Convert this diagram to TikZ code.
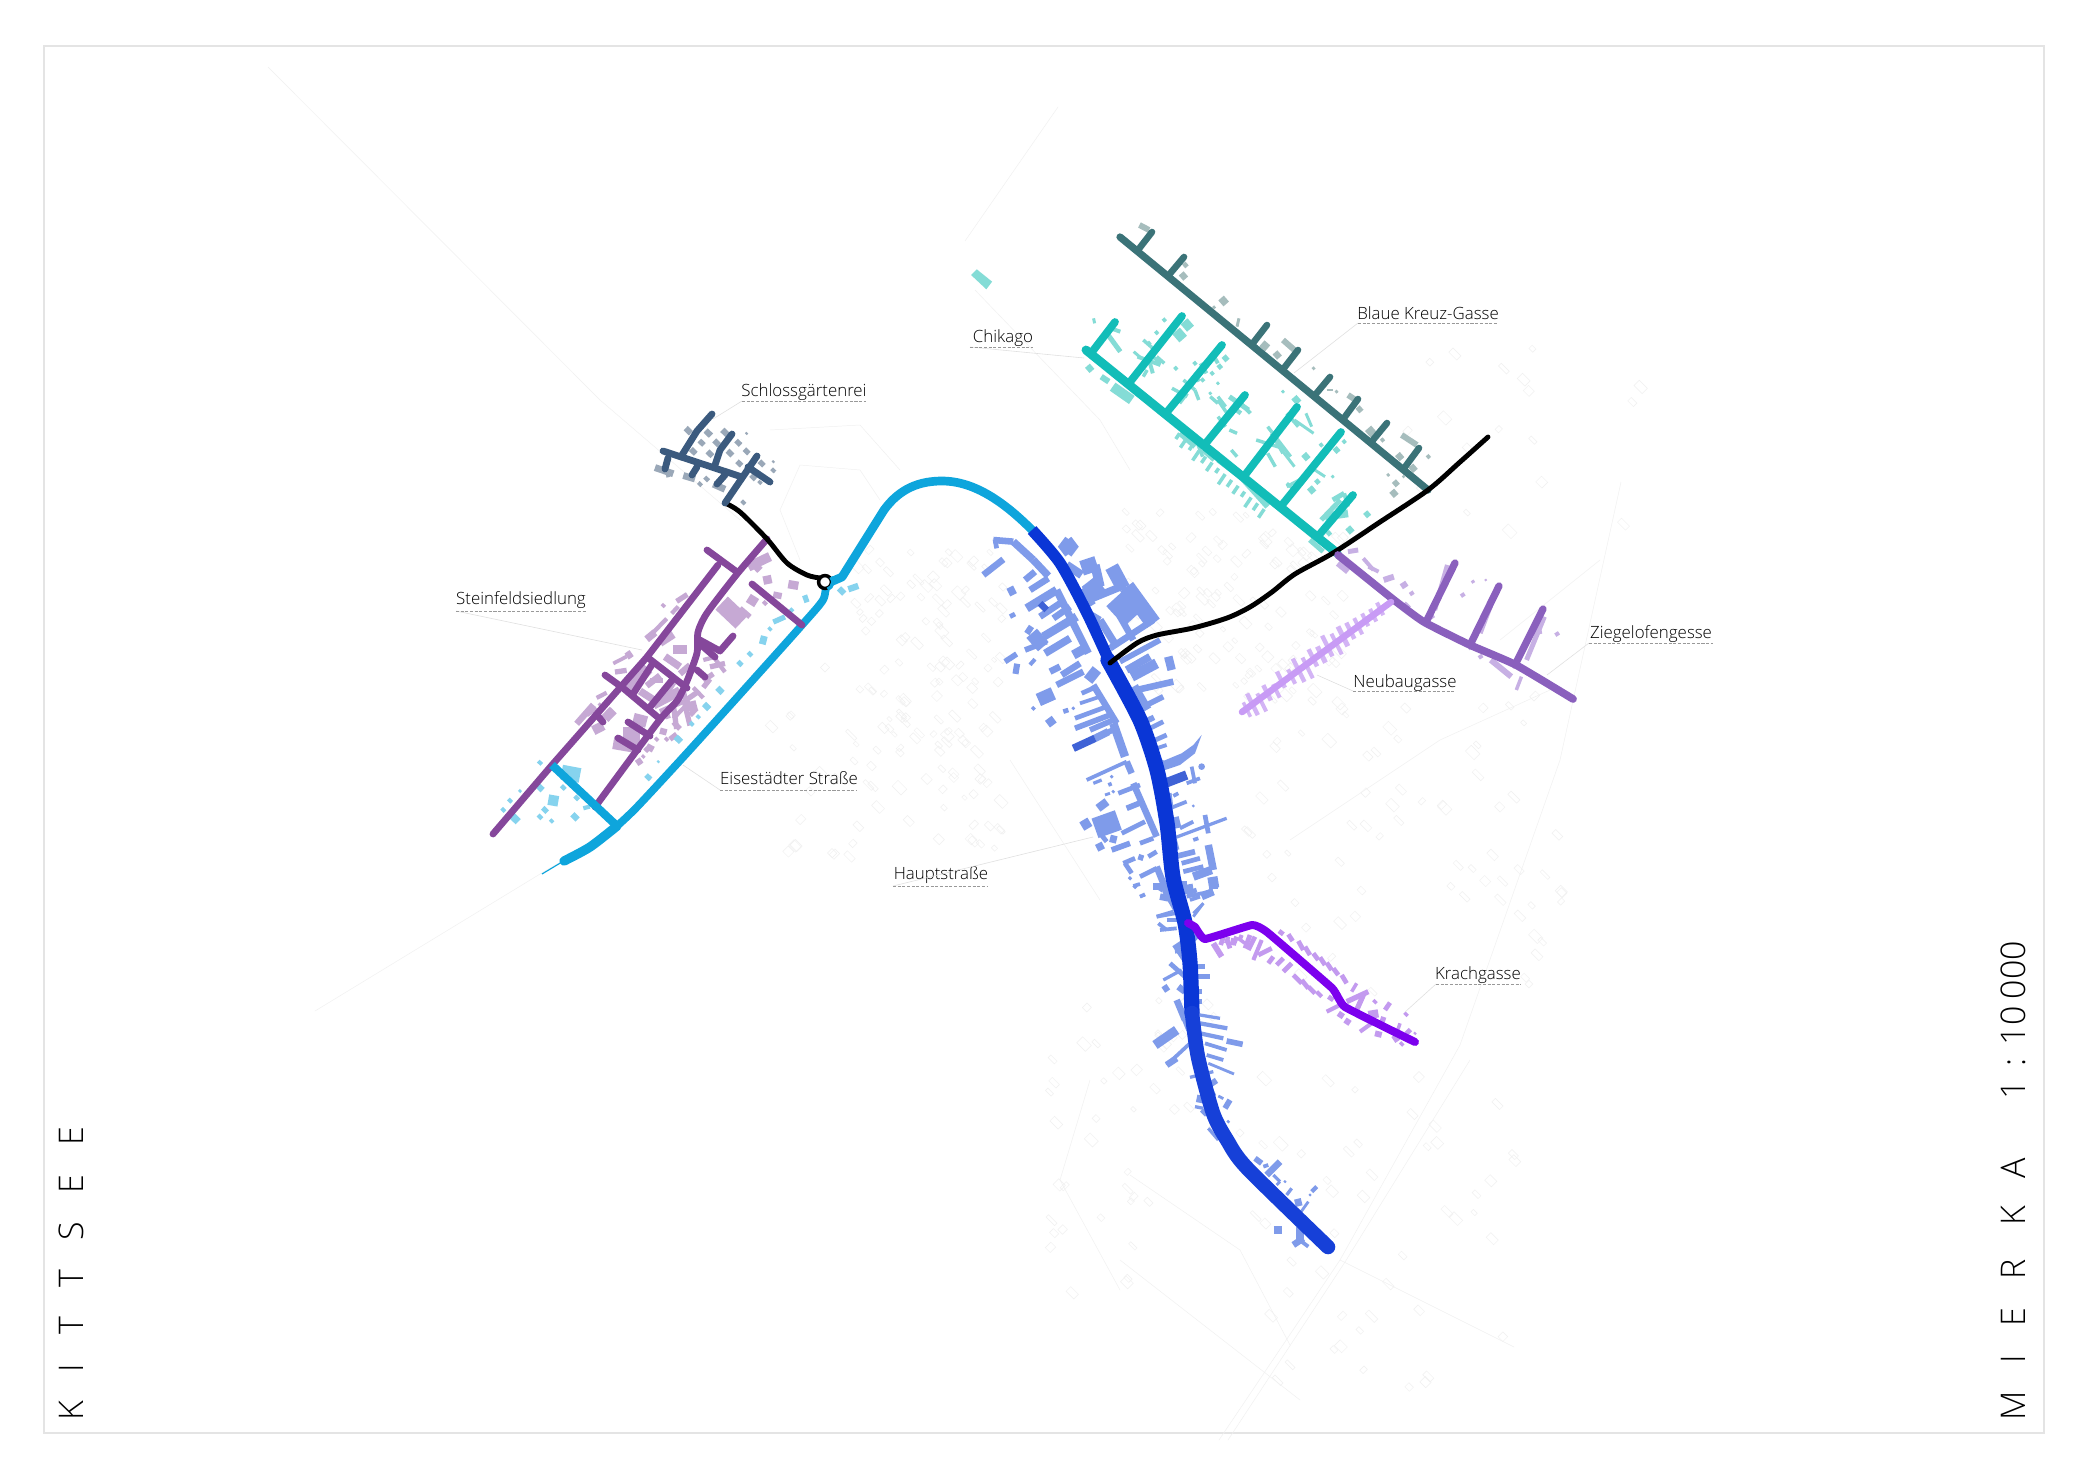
\documentclass[tikz,border=0pt]{standalone}
\usepackage{fontspec}
\setmainfont{Open Sans}[UprightFont=* Light]
\newfontfamily\titlefont{Open Sans}[UprightFont=* Light,LetterSpace=85]
\newfontfamily\scalefont{Open Sans}[UprightFont=* Light]
\definecolor{frameC}{HTML}{E4E4E4}
\definecolor{faint}{HTML}{F0F0F0}
\definecolor{leaderC}{HTML}{E0E0E0}
\definecolor{cyanR}{HTML}{0EA5DC}
\definecolor{cyanB}{HTML}{86D3EE}
\definecolor{hauptR}{HTML}{0A36D6}
\definecolor{hauptB}{HTML}{7F9BEA}
\definecolor{hauptD}{HTML}{3F62D6}
\definecolor{steinR}{HTML}{85479B}
\definecolor{steinB}{HTML}{C6A9D4}
\definecolor{schlR}{HTML}{3B5A7E}
\definecolor{schlB}{HTML}{9AA8B8}
\definecolor{kreuzR}{HTML}{3B7378}
\definecolor{kreuzB}{HTML}{A6BDBD}
\definecolor{chiR}{HTML}{12BDB8}
\definecolor{chiB}{HTML}{84DCD6}
\definecolor{ziegR}{HTML}{8A60BD}
\definecolor{ziegB}{HTML}{C7B0E4}
\definecolor{neuR}{HTML}{C89BF5}
\definecolor{neuB}{HTML}{D3B4F5}
\definecolor{kraR}{HTML}{7C00EE}
\definecolor{kraB}{HTML}{C39AEF}
\def\bfac{0.40}
\newcommand\mybars[2]{\foreach \a/\b/\c/\d/\w in {#2}{\draw[#1,line width=\w*\bfac pt] (\a,\b)--(\c,\d);}}
\newcommand\mysqs[2]{\foreach \a/\b/\s in {#2}{\draw[#1,line width=\s*\bfac pt] (\a-0.45*\s,\b+0.45*\s)--(\a+0.45*\s,\b-0.45*\s);}}
\newcommand\mylabel[9]{\node[lbl] (#1) at (#3,#4) {#2};
  \coordinate (#1a) at (#5,#7); \coordinate (#1b) at (#6,#7); \coordinate (#1c) at (#8,#9);
  \draw[leader] (#1a)--(#1c); \draw[under] (#1a)--(#1b);}
\tikzset{
  z1/.style={shift={(420,360)},xscale=0.3333,yscale=0.3448},
  z2/.style={shift={(950,200)},xscale=0.3827,yscale=0.3333},
  z3/.style={shift={(950,500)},xscale=0.5102,yscale=0.3333},
  z4/.style={shift={(960,500)},xscale=0.3333,yscale=0.3333},
  z5/.style={shift={(1050,880)},xscale=0.3333,yscale=0.3333},
  z8/.style={shift={(1230,880)},xscale=0.3333,yscale=0.3333},
  road/.style={line cap=round,line join=round},
  lbl/.style={inner sep=0pt,font=\fontsize{14.4pt}{16pt}\selectfont,text=black},
  leader/.style={draw=leaderC,line width=0.5pt},
  under/.style={draw=black!40,line width=0.5pt,dash pattern=on 2.6pt off 1.4pt},
  fm/.style={draw=faint,line width=0.4pt},
}
\begin{document}
\begin{tikzpicture}[x=0.03cm,y=-0.03cm]
\useasboundingbox (0,0) rectangle (2091,1477);
\fill[white] (0,0) rectangle (2091,1477);
\draw[frameC,line width=1.2pt] (44,46) rectangle (2044,1433);

% faint base map: long lines
\draw[fm] (268,67)--(600,400)--(740,520);
\draw[fm] (315,1011)--(545,871)--(590,845);
\draw[fm] (1219,1440)--(1340,1260)--(1460,1045)--(1560,760)--(1621,482);
\draw[fm] (1228,1440)--(1345,1262)--(1470,1060);
\draw[fm] (1340,1260)--(1514,1347);
\draw[fm] (965,241)--(1058,107);
\draw[fm] (975,290)--(1100,420)--(1130,470);
\draw[fm] (1130,1175)--(1240,1250)--(1290,1345);
\draw[fm] (1120,1260)--(1300,1400);
\draw[fm] (1120,1290)--(1060,1180)--(1090,1080);
\draw[fm] (1500,640)--(1600,560);
\draw[fm] (1290,840)--(1440,740)--(1550,690);
\draw[fm] (1010,760)--(1100,900);
\draw[fm] (800,560)--(780,510)--(800,465)--(860,470)--(880,500);
\draw[fm] (770,430)--(860,425)--(900,470);
% faint small building outlines
\pgfmathsetseed{11}
\foreach \bx/\by/\bw/\bh/\bn in {850/550/150/240/110, 1120/510/220/190/130, 1230/690/330/300/70, 1040/1000/110/300/30, 1230/1060/280/330/50, 1360/330/300/220/18, 760/660/240/200/45, 1150/1000/60/130/20}{
  \foreach \i in {1,...,\bn}{
    \pgfmathsetmacro\px{\bx+rnd*\bw}
    \pgfmathsetmacro\py{\by+rnd*\bh}
    \pgfmathsetmacro\pa{3+rnd*6}
    \pgfmathsetmacro\pb{2+rnd*4}
    \draw[fm] ([shift={(\px,\py)}]0,0) ++(0,0) -- ++(\pa,\pa) -- ++(\pb,-\pb) -- ++(-\pa,-\pa) -- cycle;
  }
}

% buildings Hauptstrasse (upper)
\begin{scope}[z4]
\mybars{hauptB}{70/225/130/178/14, 105/118/110/145/10, 100/120/160/125/14, 160/125/220/180/16, 220/180/265/228/16,
145/278/165/268/18, 195/240/225/215/14, 210/270/265/235/14, 200/325/290/270/18, 240/350/300/310/14, 280/355/330/320/14,
250/410/350/350/18, 255/460/330/415/16, 150/350/165/342/10, 200/385/215/395/18, 215/400/250/440/30, 195/450/260/425/12,
135/485/170/462/12, 160/505/178/508/22, 213/482/222/490/16, 290/270/385/460/16, 340/465/385/440/20, 270/515/300/500/14,
305/525/360/490/14, 290/555/370/515/14, 385/515/410/535/30,
320/195/365/225/18, 365/205/410/190/32, 360/270/390/320/28, 385/300/495/255/16, 405/195/420/260/20, 385/245/420/290/36,
455/200/490/265/30, 470/290/525/350/60, 500/260/580/370/34, 395/345/420/360/14, 420/360/470/440/16, 480/350/520/420/14,
450/445/580/360/14, 480/485/600/420/12, 500/510/570/470/16, 625/470/635/510/18, 515/530/590/490/22, 530/570/640/545/14,
520/560/560/630/22, 550/620/610/590/12, 555/665/582/652/12, 560/690/610/665/10, 575/725/620/705/10, 590/745/620/735/8,
695/800/705/850/8, 680/850/720/835/8, 625/880/630/920/14, 640/888/655/880/8, 630/925/680/905/8,
640/970/660/965/24, 660/985/700/965/8, 640/1015/800/955/7, 735/945/745/1000/10, 640/1010/650/1050/12, 700/1020/715/1015/8,
645/1070/705/1055/12, 665/1090/720/1075/10, 745/1035/760/1110/16, 670/1115/730/1100/10, 700/1130/755/1110/18, 745/1150/775/1145/24,
725/1190/760/1175/16, 670/1170/700/1165/20, 680/1190/725/1180/8, 700/1240/730/1210/6,
235/600/280/580/28, 265/655/280/675/18, 365/580/410/560/10, 310/635/325/630/10, 400/555/470/670/14, 360/610/420/590/8,
345/655/440/620/10, 345/685/450/645/12, 390/690/460/660/12, 410/710/460/690/12, 460/670/495/770/18,
405/715/445/695/16, 380/840/500/785/8, 500/785/515/820/14, 400/850/425/840/7, 445/855/455/851/8, 435/885/450/880/6,
475/880/540/855/10, 520/850/590/1010/14, 500/925/550/905/12, 420/905/435/925/24, 370/960/385/985/20,
405/985/475/960/44, 420/1000/440/1025/10, 410/1045/430/1035/16, 450/1015/470/1020/16, 485/1000/555/965/10,
455/1050/510/1030/12, 490/1090/525/1075/10, 495/1090/515/1120/10, 535/1070/550/1075/12, 540/1030/580/1015/10,
540/1130/590/1105/10, 565/1070/590/1055/10, 580/1160/610/1160/16, 600/1190/625/1195/14, 590/1250/640/1235/8, 590/1100/630/1200/14,
540/1190/555/1185/6}
\mysqs{hauptB}{220/625/8, 340/625/6, 455/830/6, 460/875/6, 510/1135/7, 525/1160/8, 700/918/5}
\mybars{hauptB}{305/125/345/155/26, 305/155/345/125/26}
\fill[hauptB] (725,705)--(705,760)--(660,795)--(610,812)--(590,770)--(612,782)--(665,760)--(700,735)--cycle;
\fill[hauptB] (725,800) circle (10);
\mybars{hauptD}{240/310/260/330/14, 340/745/405/715/16, 615/850/680/825/20}
\end{scope}

% buildings Hauptstrasse (lower)
\begin{scope}[z5]
\mybars{hauptB}{250/18/270/12/8, 270/50/285/43/8, 325/20/340/30/12, 345/30/380/90/14, 320/110/375/100/8, 330/150/380/145/8,
325/130/350/150/8, 350/120/400/120/8, 395/10/410/10/10, 410/40/440/30/10, 455/45/490/35/14, 480/10/505/10/22, 420/60/450/50/8, 430/110/460/70/6,
380/190/420/250/22, 375/215/420/210/8, 430/180/445/165/10, 340/300/395/270/7, 360/250/405/290/10, 340/330/355/320/14, 385/320/405/335/14,
440/260/465/260/12, 445/290/480/290/10, 440/335/455/335/10, 440/365/455/365/10, 380/360/405/420/14, 400/400/420/450/16,
450/405/510/415/7, 450/430/532/445/9, 450/460/520/475/9, 530/483/578/493/12, 465/490/530/510/8, 470/525/520/540/8, 475/550/552/582/6,
315/495/380/450/20, 350/555/420/490/8, 350/555/380/535/14, 420/592/490/575/7, 440/550/490/650/14, 440/655/465/660/16,
435/680/460/685/7, 455/690/470/705/10, 475/745/505/780/7, 505/648/520/656/6, 525/685/540/660/12, 485/600/495/615/16,
615/835/635/850/12, 640/860/655/855/8, 650/885/690/845/14, 670/885/690/905/7, 680/915/690/905/6, 710/945/725/925/7,
735/970/755/965/16, 750/1000/775/965/6, 785/935/800/920/9, 672/1050/697/1050/18, 750/1040/750/1082/18, 730/1095/760/1075/14, 755/1085/775/1100/8}
\mysqs{hauptB}{705/905/5, 780/945/5, 535/725/6, 660/870/6}
\end{scope}

% buildings Krachgasse
\def\bfac{0.5}
\begin{scope}[z8]
\mybars{kraB}{147/153/160/163/8, 175/163/188/183/8, 205/183/220/210/8, 225/200/240/225/8, 250/220/265/240/8, 270/232/285/255/8,
290/248/305/270/8, 310/265/325/285/8, 335/285/350/310/8, 380/310/365/335/6,
60/165/45/205/8, 75/170/55/210/8, 95/180/70/240/7, 125/205/85/225/8, 130/230/115/250/8, 160/235/140/255/8, 185/250/160/275/8,
190/285/215/310/8, 215/300/235/325/8, 235/320/255/340/8, 260/335/275/350/7, 295/350/310/360/8,
290/395/330/375/7, 325/400/340/410/10, 345/420/360/430/10, 415/335/350/365/9, 400/345/380/390/9, 390/455/425/430/7, 415/405/445/400/14,
480/368/465/390/8, 450/420/465/425/14, 435/460/455/465/10, 510/430/500/460/6, 490/480/505/470/12, 530/450/540/460/10,
-18/165/-28/195/8, -5/170/-12/190/7, 20/170/10/195/8, 35/165/28/182/7, 45/190/25/175/6}
\mysqs{kraB}{435/365/8, 528/403/8, 515/492/8, 555/460/5}
\end{scope}
\begin{scope}[z5]
\mybars{kraB}{490/190/515/230/10, 530/175/540/205/8, 550/175/545/195/7}
\end{scope}

% buildings Steinfeld, Eisenstaedter, Schloss
\def\bfac{0.45}
\begin{scope}[z1]
\mybars{steinB}{770/700/802/680/10, 755/735/775/715/8, 680/810/705/790/14, 700/790/740/750/8, 720/820/760/795/16, 620/860/635/850/14,
585/905/620/900/10, 620/950/680/890/30, 690/930/730/930/10, 735/860/780/890/14, 760/840/800/840/18, 780/910/810/885/12,
740/965/760/935/12, 700/1000/780/960/18, 720/1020/790/990/10, 530/980/560/965/8, 470/1055/520/1000/12, 520/1075/550/1060/18,
555/1040/580/1015/18, 640/1040/680/1050/22, 610/1090/660/1090/34, 580/1110/640/1120/24, 720/1075/740/1080/12, 680/1120/700/1130/12,
650/1170/665/1160/12, 760/1050/780/1070/10, 790/1010/830/1000/18, 800/985/830/965/10, 850/930/880/910/10, 850/950/870/925/10,
870/890/915/880/10, 850/870/890/860/8, 760/1040/810/990/8,
905/705/965/760/34, 960/720/990/745/10, 985/600/1050/570/18, 1030/640/1055/635/16, 1105/650/1135/655/16, 1060/680/1085/685/12, 985/690/1010/705/18,
750/1100/770/1085/10, 810/1030/830/1010/10,
660/960/700/985/14, 680/945/720/915/12, 790/960/800/1000/10, 760/1000/770/1070/10, 820/950/850/980/8, 880/860/915/905/8, 800/1020/810/1060/10, 735/1010/745/1040/10, 500/1030/530/1010/8, 580/880/620/860/7, 1000/590/1020/610/14}
\mysqs{steinB}{730/712/8, 1035/705/9, 540/1000/7, 670/1150/7, 710/1100/8, 680/1130/10, 740/1100/8}
\mybars{cyanB}{1150/695/1165/690/14, 1285/665/1315/655/12, 1060/760/1095/745/10, 1020/810/1040/815/16, 425/1195/480/1205/28, 490/1300/510/1295/8, 385/1275/415/1280/20}
\mysqs{cyanB}{1265/670/14, 1115/725/8, 1050/780/8, 990/853/10, 960/880/11, 900/958/14, 860/1005/14, 835/1035/8, 815/1055/9, 775/1100/14, 715/1165/5, 685/1210/12,
360/1168/9, 360/1240/14, 430/1240/10, 470/1270/10, 375/1305/12, 360/1325/10, 395/1337/8, 465/1325/14, 285/1330/17, 250/1305/9, 270/1278/9, 300/1250/6}
\mysqs{schlB}{805/205/14, 865/212/14, 915/210/14, 980/213/5, 845/240/12, 890/240/13, 955/240/12, 980/265/12, 820/265/13, 870/272/13, 930/270/13, 1025/300/12, 1060/320/9, 958/300/12, 1000/340/12, 1020/355/8, 970/413/9, 860/345/10, 840/360/9, 1060/295/5}
\mybars{schlB}{705/312/760/330/13, 790/335/825/345/13, 880/360/915/375/13, 745/340/735/295/7}
\end{scope}

% buildings Chikago, Blaue Kreuz
\def\bfac{0.42}
\begin{scope}[z2]
\mybars{chiB}{395/530/415/545/12, 425/560/475/600/20, 375/355/378/370/6, 410/400/445/455/10, 420/385/445/395/8, 490/470/550/495/8, 520/480/530/520/8,
580/565/620/590/7, 640/570/650/600/7, 700/590/720/620/7, 730/590/780/630/10, 600/700/640/740/10, 640/710/660/770/7, 660/750/690/780/9,
735/750/750/770/7, 700/780/780/850/10, 760/830/830/920/12, 830/680/890/770/7, 800/720/870/745/7, 930/640/945/680/6,
1030/880/1040/920/8, 980/950/1040/940/16, 940/1020/975/1055/10, 830/760/850/800/7, 880/850/900/870/7, 540/470/560/490/7, 480/455/500/475/6,
505/420/530/445/7, 530/470/550/490/7, 515/510/505/530/7, 610/540/640/570/7, 655/490/670/520/8, 620/580/600/610/7, 640/520/650/545/8, 690/470/700/490/8,
680/590/700/610/7, 700/600/730/650/7, 735/620/760/640/9, 760/610/785/640/8, 730/690/750/700/7, 700/650/720/680/7, 840/700/870/760/7, 880/640/910/680/7, 900/660/950/700/6, 860/740/900/800/6, 1000/900/1030/880/10, 970/960/1020/900/10, 880/860/930/830/7, 940/800/980/830/6}
\foreach \i/\l in {0/20,1/30,2/18,3/34,4/22,5/30,6/16,7/36,8/24,9/28,10/18,11/34,12/24,13/30}{
  \draw[chiB,line width=3pt] (600+17*\i,700+17.5*\i)--(600+17*\i-0.5*\l,700+17.5*\i+0.85*\l);
}
\mysqs{chiB}{365/505/14, 560/360/8, 540/398/8, 620/375/20, 600/405/22, 520/430/8, 590/505/8, 640/490/8, 720/475/12, 705/500/10, 685/520/8, 660/540/8, 700/550/6, 680/580/6,
905/600/15, 970/735/8, 930/770/14, 960/845/10, 945/870/14, 1010/750/12, 1030/725/8, 1000/830/6, 870/575/6, 1090/943/12, 1045/990/14, 990/1000/10}
\mybars{kreuzB}{495/75/520/90/12, 755/355/750/380/6, 815/430/830/445/16, 870/420/900/450/12, 985/570/1000/570/6, 1040/585/1060/600/12, 1180/705/1220/735/12}
\mysqs{kreuzB}{615/195/10, 610/228/14, 715/303/16, 690/322/6, 855/465/14, 950/505/6, 1010/575/6, 1070/628/12, 1100/695/18, 1130/720/8, 1250/770/8, 1175/770/14, 1210/805/14, 1145/825/6, 1165/850/12, 1160/880/14, 1185/830/5}
\fill[chiB] (55,225)--(70,208)--(110,245)--(95,268)--cycle;
\end{scope}

% buildings Ziegelofen
\begin{scope}[z3]
\mybars{ziegB}{780/155/800/150/10, 810/175/830/210/8, 760/190/780/215/12, 820/200/840/215/8, 850/240/870/230/12, 890/310/900/325/10, 975/195/950/330/10,
1075/258/1040/400/8, 1060/480/1100/530/12, 1110/570/1120/530/7, 1165/350/1130/480/10, 1145/400/1160/395/8}
\mysqs{ziegB}{890/255/12, 905/280/8, 945/350/8, 1025/245/6, 1050/240/4, 1005/285/8, 1020/440/10, 1040/470/8, 1190/402/8}
\end{scope}

% buildings Neubaugasse
\foreach \t/\ua/\ub/\v in {0.03/-7/9/3.4, 0.07/-12/12/4.4, 0.12/-6/14/4, 0.17/-9/8/4.4, 0.22/-4/11/4, 0.27/-12/6/4.4, 0.33/-7/9/4, 0.38/-13/13/4.4, 0.43/-8/15/4, 0.48/-11/8/4.4, 0.53/-8/10/5, 0.58/-14/9/4.4, 0.63/-10/13/4, 0.68/-12/10/5, 0.73/-10/8/4.4, 0.78/-9/9/4, 0.83/-8/6/4, 0.88/-7/7/4, 0.93/-8/6/4}{
  \draw[neuB,line width=\v*0.854pt] (1242+149*\t+0.45*\ua,712-110*\t+0.9*\ua)--(1242+149*\t+0.45*\ub,712-110*\t+0.9*\ub);
}

% Leaders and labels
\mylabel{schl}{Schlossgärtenrei}{804}{392}{742}{866}{401}{713}{419}
\mylabel{stein}{Steinfeldsiedlung}{521}{600}{456}{586}{611}{642}{650}
\mylabel{eise}{Eisestädter Straße}{789}{778}{720}{856}{790}{683}{765}
\mylabel{chik}{Chikago}{1003}{338}{970}{1033}{347}{1084}{358}
\mylabel{blau}{Blaue Kreuz-Gasse}{1428}{313}{1358}{1498}{323}{1294}{373}
\mylabel{neub}{Neubaugasse}{1405}{683}{1353}{1456}{691}{1317}{675}
\mylabel{zieg}{Ziegelofengesse}{1651}{634}{1589}{1713}{643}{1547}{675}
\mylabel{haup}{Hauptstraße}{941}{875}{893}{987}{886}{1093}{837}
\mylabel{krac}{Krachgasse}{1478}{975}{1436}{1521}{984}{1405}{1012}

% Roads
\draw[cyanR,line width=1pt] (542,874)--(562,862);
\draw[cyanR,road,line width=8pt] plot[smooth,tension=0.45] coordinates {(564,861)(590,847)(617,826)};
\draw[cyanR,road,line width=6.6pt] plot[smooth,tension=0.45] coordinates {(617,826)(637,807)(687,753)(760,672)(802,625)(823,600)(826,584)};
\draw[cyanR,road,line width=7.4pt] (826,584)--(842,577)--(884,510) .. controls (900,488) and (920,481) .. (942,481) .. controls (975,481) and (1005,503) .. (1032,530);
\draw[hauptR,line width=9.8pt,line cap=butt] plot[smooth,tension=0.45] coordinates {(1032,530)(1060,563)(1087,613)(1112,667)};
\draw[hauptR,road,line width=13pt] plot[smooth,tension=0.45] coordinates {(1108,660)(1140,720)(1157,770)(1167,823)(1173,877)(1185,923)(1190,963)(1192,1013)};
\draw[hauptR!95!white,road,line width=12.4pt] plot[smooth,tension=0.45] coordinates {(1192,1013)(1198,1057)(1213,1113)(1227,1140)(1247,1168)(1328,1247)};
% Side streets
\tikzset{sr/.style={steinR,road,line width=5.8pt}}
\draw[sr] (493,834)--(552,765)--(647,657)--(718,565);
\draw[sr] (707,550)--(737,572);
\draw[sr] plot[smooth,tension=0.4] coordinates {(767,539)(737,574)(707,613)(698,632)(697,653)(687,681)(677,701)(658,722)(595,807)};
\draw[sr] (752,584)--(802,625);
\draw[sr] (698,639)--(720,651)--(733,636);
\draw[sr] (700,644)--(715,657);
\draw[sr] (697,670)--(705,677);
\draw[sr] (605,675)--(623,688)--(660,719);
\draw[sr] (647,657)--(687,688);
\draw[sr] (653,663)--(633,694);
\draw[sr] (673,679)--(650,707);
\draw[sr] (597,715)--(603,722);
\draw[sr] (628,722)--(650,736);
\draw[sr] (618,738)--(638,750);
\draw[cyanR,line width=7pt,line cap=butt] (552,765)--(617,826);
\draw[black,road,line width=4.2pt] plot[smooth,tension=0.5] coordinates {(725,503)(740,512)(767,539)(787,563)(807,575)(820,578)};
\tikzset{sc/.style={schlR,road,line width=5.8pt}}
\draw[sc] (663,451)--(742,477);
\draw[sc] (712,414)--(697,431)--(682,455);
\draw[sc] (732,434)--(720,450)--(715,465);
\draw[sc] (757,456)--(725,503);
\draw[sc] (748,467)--(770,482);
\draw[sc] (668,458)--(665,469);
\draw[sc] (697,467)--(692,475);
\draw[sc] (725,475)--(717,484);
\draw[kreuzR,road,line width=6.2pt] (1120,237)--(1428,490);
\foreach \ax/\ay/\bx/\by in {1138/250/1152/232,1168/276/1184/257,1253/343/1267/325,1284/368/1298/350,1315/395/1330/377,1344/418/1358/399,1373/440/1387/423,1405/467/1419/448}{
  \draw[kreuzR,road,line width=5.6pt] (\ax,\ay)--(\bx,\by);
}
\foreach \ax/\ay/\bx/\by in {1092/352/1115/322,1130/382/1182/316,1167/412/1222/345,1206/443/1245/395,1245/475/1297/407,1282/505/1341/432,1319/535/1353/495}{
  \draw[chiR,road,line width=6.6pt] (\ax,\ay)--(\bx,\by);
}
\draw[chiR,road,line width=7.6pt] (1086,350)--(1337,553);
\draw[black,road,line width=4.2pt] plot[smooth,tension=0.5] coordinates {(1110,663)(1137,643)(1157,635)(1193,628)(1227,618)(1250,607)(1272,592)(1295,574)(1333,553)(1380,522)(1428,490)(1460,462)(1488,437)};
\draw[ziegR,road,line width=6.2pt] (1427,620)--(1455,563);
\draw[ziegR,road,line width=6.2pt] (1471,643)--(1499,586);
\draw[ziegR,road,line width=6.2pt] (1515,665)--(1543,609);
\draw[ziegR,road,line width=6.6pt] plot[smooth,tension=0.3] coordinates {(1338,555)(1394,600)(1424,622)(1470,645)(1516,665)(1573,699)};
\draw[neuR,road,line width=5.6pt] (1391,602)--(1242,712);
\draw[kraR,road,line width=6.8pt] plot[smooth,tension=0.2] coordinates {(1188,923)(1195,927)(1205,939)(1252,925)(1267,932)(1332,988)(1345,1007)(1415,1042)};

% Roundabout
\node[circle,draw=black,fill=white,line width=3pt,minimum size=11pt,inner sep=0pt] (round) at (825,582) {};
\draw[cyanR,line width=3pt] ([shift={(-70:6.6pt)}]round.center) arc[start angle=-70,end angle=40,radius=6.6pt];

% Titles
\node[inner sep=0pt,rotate=90,anchor=base west,font=\titlefont\fontsize{29pt}{30pt}\selectfont] (kit) at (83,1421) {KITTSEE};
\node[inner sep=0pt,rotate=90,anchor=base west,font=\scalefont\fontsize{29pt}{30pt}\selectfont] (mier) at (2025,1421) {M\hspace{24pt}I\hspace{24pt}E\hspace{24.4pt}R\hspace{29pt}K\hspace{23pt}A\hspace{50pt}1\hspace{12pt}:\hspace{11pt}10\hspace{6pt}000};
\end{tikzpicture}
\end{document}
